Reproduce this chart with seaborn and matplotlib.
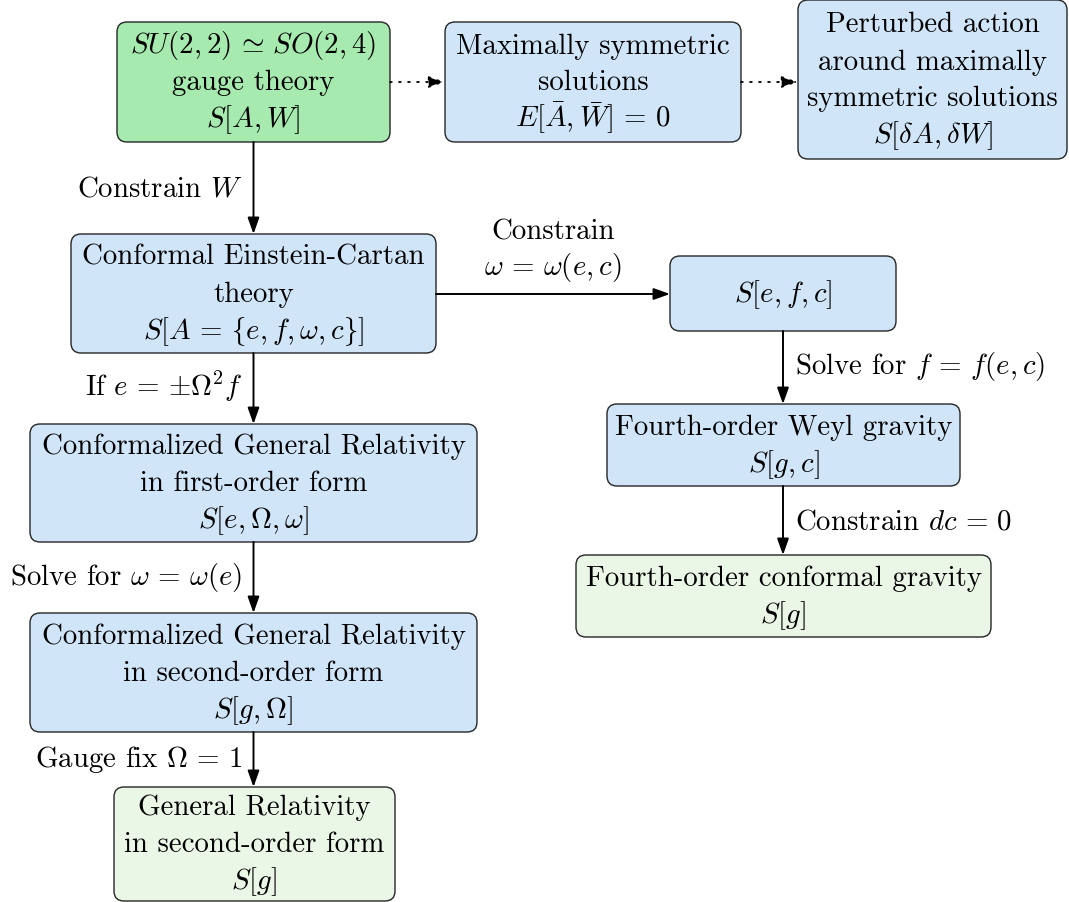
#!/usr/bin/env python3
"""Flow chart: from the SU(2,2) gauge theory down to conformal and general relativity."""

import matplotlib.pyplot as plt
import seaborn as sns
from matplotlib.patches import FancyArrowPatch, FancyBboxPatch

# --- box contents -----------------------------------------------------------
GAUGE = [r"$SU(2,2) \,\simeq\, SO(2,4)$", "gauge theory", r"$S[A,W]$"]
MAXSYM = ["Maximally symmetric", "solutions", r"$E[\bar{A},\bar{W}]\,=\,0$"]
PERTURBED = ["Perturbed action", "around maximally", "symmetric solutions",
             r"$S[\delta A,\delta W]$"]
CONF_EC = ["Conformal Einstein-Cartan", "theory",
           r"$S[A\,=\,\lbrace e,f,\omega,c\rbrace]$"]
CGR_FIRST = ["Conformalized General Relativity", "in first-order form",
             r"$S[e,\Omega,\omega]$"]
CGR_SECOND = ["Conformalized General Relativity", "in second-order form",
              r"$S[g,\Omega]$"]
GR = ["General Relativity", "in second-order form", r"$S[g]$"]
SEFC = [r"$S[e,f,c]$"]
WEYL = ["Fourth-order Weyl gravity", r"$S[g,c]$"]
CONF_GRAV = ["Fourth-order conformal gravity", r"$S[g]$"]

# --- edge labels ------------------------------------------------------------
LBL_W = r"Constrain $W$"
LBL_IF = r"If $e\,=\,{\pm\Omega^2 f}$"
LBL_OMEGA = r"Solve for $\omega\,=\,\omega(e)$"
LBL_GAUGE = r"Gauge fix $\Omega\,=\,1$"
LBL_OMEGA_EC = ["Constrain", r"$\omega\,=\,\omega(e,c)$"]
LBL_F = r"Solve for $f\,=\,f(e,c)$"
LBL_DC = r"Constrain $dc\,=\,0$"

# --- layout (pixel coordinates, y pointing down) ---------------------------
BOXES = {
    "gauge": (117, 23, 390, 143),
    "maxsym": (445, 23, 741, 143),
    "perturbed": (798, 1, 1067, 160),
    "conf_ec": (71, 235, 436, 354),
    "cgr_first": (30, 425, 477, 543),
    "cgr_second": (30, 614, 477, 733),
    "gr": (114, 788, 395, 902),
    "sefc": (670, 257, 896, 332),
    "weyl": (607, 405, 960, 487),
    "conf_grav": (576, 556, 991, 638),
}

GREEN = "#a6eaaf"
BLUE = "#d0e5f8"
PALE = "#ebf7e6"
EDGE = "#262626"

FS = 20.8
PITCH = 37
DY = 7.5


def draw_box(ax, key, lines, face):
    x0, y0, x1, y1 = BOXES[key]
    ax.add_patch(FancyBboxPatch((x0, y0), x1 - x0, y1 - y0,
                                boxstyle="round,pad=0,rounding_size=10",
                                facecolor=face, edgecolor=EDGE, linewidth=1.0))
    cx, cy = (x0 + x1) / 2, (y0 + y1) / 2
    n = len(lines)
    for i, txt in enumerate(lines):
        yc = cy + (i - (n - 1) / 2) * PITCH
        ax.text(cx, yc + DY, txt, ha="center", va="baseline", fontsize=FS,
                color="black")


def arrow(ax, p0, p1, dotted=False):
    ax.add_patch(FancyArrowPatch(
        p0, p1, arrowstyle="-|>,head_length=0.7,head_width=0.25",
        mutation_scale=14, color="black",
        linewidth=1.3 if dotted else 1.4,
        linestyle=(0, (1, 4)) if dotted else "-", shrinkA=0, shrinkB=0))


def label(ax, x, y, txt, ha):
    ax.text(x, y + DY, txt, ha=ha, va="baseline", fontsize=FS, color="black")


def main():
    sns.set_theme(style="white")
    plt.rcParams["font.family"] = ["cmr10", "DejaVu Sans"]
    plt.rcParams["mathtext.fontset"] = "cm"
    plt.rcParams["axes.formatter.use_mathtext"] = True

    fig = plt.figure(figsize=(10.69, 9.03), dpi=100)
    ax = fig.add_axes([0, 0, 1, 1])
    ax.set_xlim(0, 1069)
    ax.set_ylim(903, 0)
    ax.axis("off")

    draw_box(ax, "gauge", GAUGE, GREEN)
    draw_box(ax, "maxsym", MAXSYM, BLUE)
    draw_box(ax, "perturbed", PERTURBED, BLUE)
    draw_box(ax, "conf_ec", CONF_EC, BLUE)
    draw_box(ax, "cgr_first", CGR_FIRST, BLUE)
    draw_box(ax, "cgr_second", CGR_SECOND, BLUE)
    draw_box(ax, "gr", GR, PALE)
    draw_box(ax, "sefc", SEFC, BLUE)
    draw_box(ax, "weyl", WEYL, BLUE)
    draw_box(ax, "conf_grav", CONF_GRAV, PALE)

    # dotted arrows along the top row
    arrow(ax, (390, 83), (445, 83), dotted=True)
    arrow(ax, (741, 83), (798, 83), dotted=True)

    # left column
    xl = 253.5
    arrow(ax, (xl, 143), (xl, 235))
    arrow(ax, (xl, 354), (xl, 425))
    arrow(ax, (xl, 543), (xl, 614))
    arrow(ax, (xl, 733), (xl, 788))
    for txt, y in [(LBL_W, 189), (LBL_IF, 389), (LBL_OMEGA, 578), (LBL_GAUGE, 760)]:
        label(ax, xl - 11, y, txt, "right")

    # horizontal branch
    arrow(ax, (436, 295), (670, 295))
    label(ax, 553, 232, LBL_OMEGA_EC[0], "center")
    label(ax, 553, 268, LBL_OMEGA_EC[1], "center")

    # right column
    xr = 783
    arrow(ax, (xr, 332), (xr, 405))
    arrow(ax, (xr, 487), (xr, 556))
    label(ax, xr + 12, 367, LBL_F, "left")
    label(ax, xr + 12, 522, LBL_DC, "left")

    fig.savefig("out.png", dpi=100, facecolor="white")
    plt.close(fig)


if __name__ == "__main__":
    main()
